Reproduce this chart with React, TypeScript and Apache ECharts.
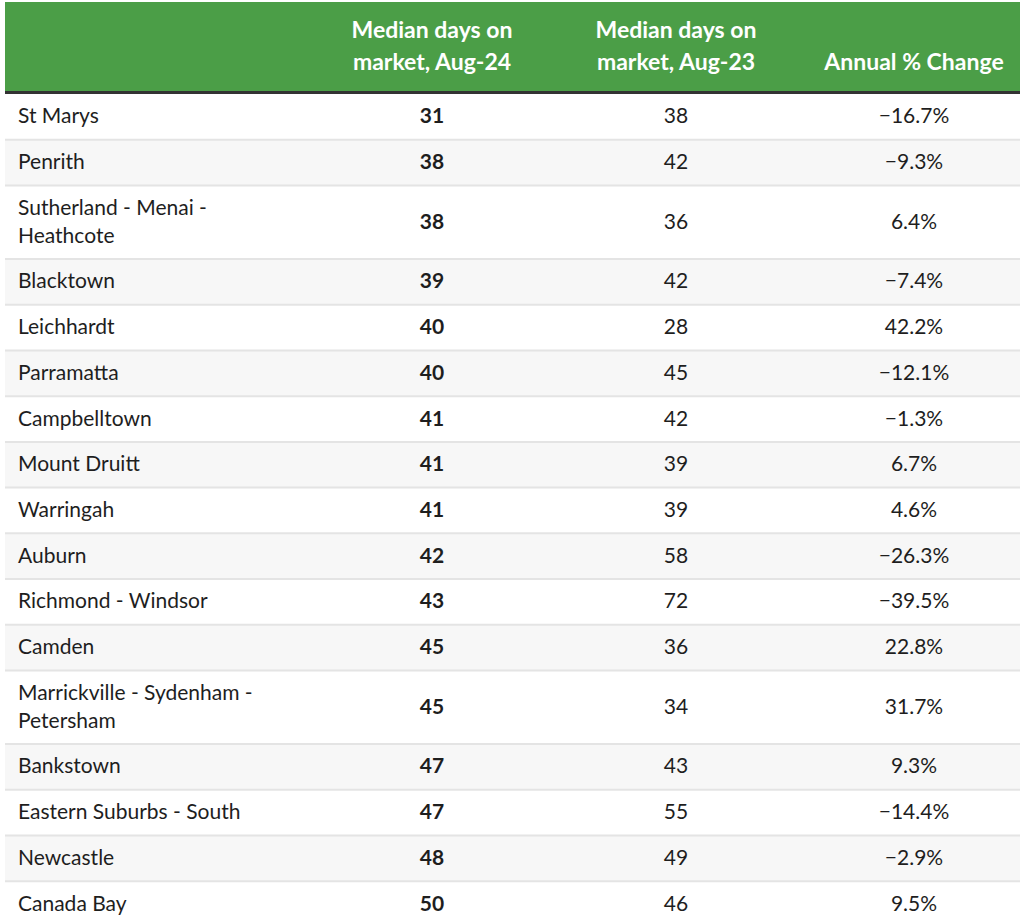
import React, { useEffect, useRef } from "react";
import * as echarts from "echarts";

const headers = ["", "Median days on\nmarket, Aug-24", "Median days on\nmarket, Aug-23", "Annual % Change"];
const regions = [
  "St Marys",
  "Penrith",
  "Sutherland - Menai - Heathcote",
  "Blacktown",
  "Leichhardt",
  "Parramatta",
  "Campbelltown",
  "Mount Druitt",
  "Warringah",
  "Auburn",
  "Richmond - Windsor",
  "Camden",
  "Marrickville - Sydenham - Petersham",
  "Bankstown",
  "Eastern Suburbs - South",
  "Newcastle",
  "Canada Bay",
];
const daysAug24 = [31, 38, 38, 39, 40, 40, 41, 41, 41, 42, 43, 45, 45, 47, 47, 48, 50];
const daysAug23 = [38, 42, 36, 42, 28, 45, 42, 39, 39, 58, 72, 36, 34, 43, 55, 49, 46];
const annualChange = [-16.7, -9.3, 6.4, -7.4, 42.2, -12.1, -1.3, 6.7, 4.6, -26.3, -39.5, 22.8, 31.7, 9.3, -14.4, -2.9, 9.5];

const FONT = "Lato, 'Open Sans', sans-serif";

function wrapName(name: string, maxChars: number): string {
  if (name.length <= maxChars) return name;
  const cut = name.lastIndexOf(" ", maxChars + 2);
  return name.slice(0, cut) + "\n" + name.slice(cut + 1);
}

function fmtPct(v: number): string {
  return (v < 0 ? "\u2212" : "") + Math.abs(v).toFixed(1) + "%";
}

export default function App() {
  const ref = useRef<HTMLDivElement>(null);
  useEffect(() => {
    if (!ref.current) return;
    const chart = echarts.init(ref.current, undefined, { renderer: "svg" });

    const left = 5;
    const right = 1020;
    const headerTop = 2;
    const headerBottom = 91;
    const bodyTop = 94;
    const singleH = 45.7;
    const lineH = 28;
    const colX = [18, 432, 676, 914];
    const green = "#4b9e47";
    const textColor = "#1e1e1e";

    const elements: any[] = [];
    elements.push({
      type: "rect",
      shape: { x: left, y: headerTop, width: right - left, height: headerBottom - headerTop },
      style: { fill: green },
      z: 1,
    });
    elements.push({
      type: "rect",
      shape: { x: left, y: headerBottom, width: right - left, height: 3 },
      style: { fill: "#333" },
      z: 2,
    });
    headers.forEach((h, i) => {
      if (!h) return;
      elements.push({
        type: "text",
        x: colX[i],
        y: 77,
        z: 5,
        style: {
          text: h,
          fill: "#fff",
          fontFamily: FONT,
          fontSize: 23,
          fontWeight: "bold",
          align: "center",
          verticalAlign: "bottom",
          lineHeight: 32,
        },
      });
    });

    let y = bodyTop;
    regions.forEach((name, i) => {
      const label = wrapName(name, 24);
      const lines = label.split("\n").length;
      const h = singleH + (lines - 1) * lineH;
      if (i % 2 === 1) {
        elements.push({
          type: "rect",
          shape: { x: left, y, width: right - left, height: h },
          style: { fill: "#f7f7f7" },
          z: 1,
        });
      }
      if (i > 0) {
        elements.push({
          type: "rect",
          shape: { x: left, y: y - 1, width: right - left, height: 2 },
          style: { fill: "#e4e4e4" },
          z: 2,
        });
      }
      const cy = y + h / 2 - 2;
      const base = {
        fill: textColor,
        fontFamily: FONT,
        fontSize: 21,
        verticalAlign: "middle",
        lineHeight: lineH,
      };
      elements.push({ type: "text", x: colX[0], y: cy, z: 5, style: { ...base, text: label, align: "left" } });
      elements.push({
        type: "text",
        x: colX[1],
        y: cy,
        z: 5,
        style: { ...base, text: String(daysAug24[i]), align: "center", fontWeight: "bold" },
      });
      elements.push({ type: "text", x: colX[2], y: cy, z: 5, style: { ...base, text: String(daysAug23[i]), align: "center" } });
      elements.push({ type: "text", x: colX[3], y: cy, z: 5, style: { ...base, text: fmtPct(annualChange[i]), align: "center" } });
      y += h;
    });

    chart.setOption({
      animation: false,
      backgroundColor: "#fff",
      graphic: { elements },
    });
    return () => chart.dispose();
  }, []);
  return (
    <div style={{ position: "fixed", left: 0, top: 0, width: 1024, height: 922 }}>
      <div ref={ref} style={{ width: 1024, height: 922 }} />
    </div>
  );
}
